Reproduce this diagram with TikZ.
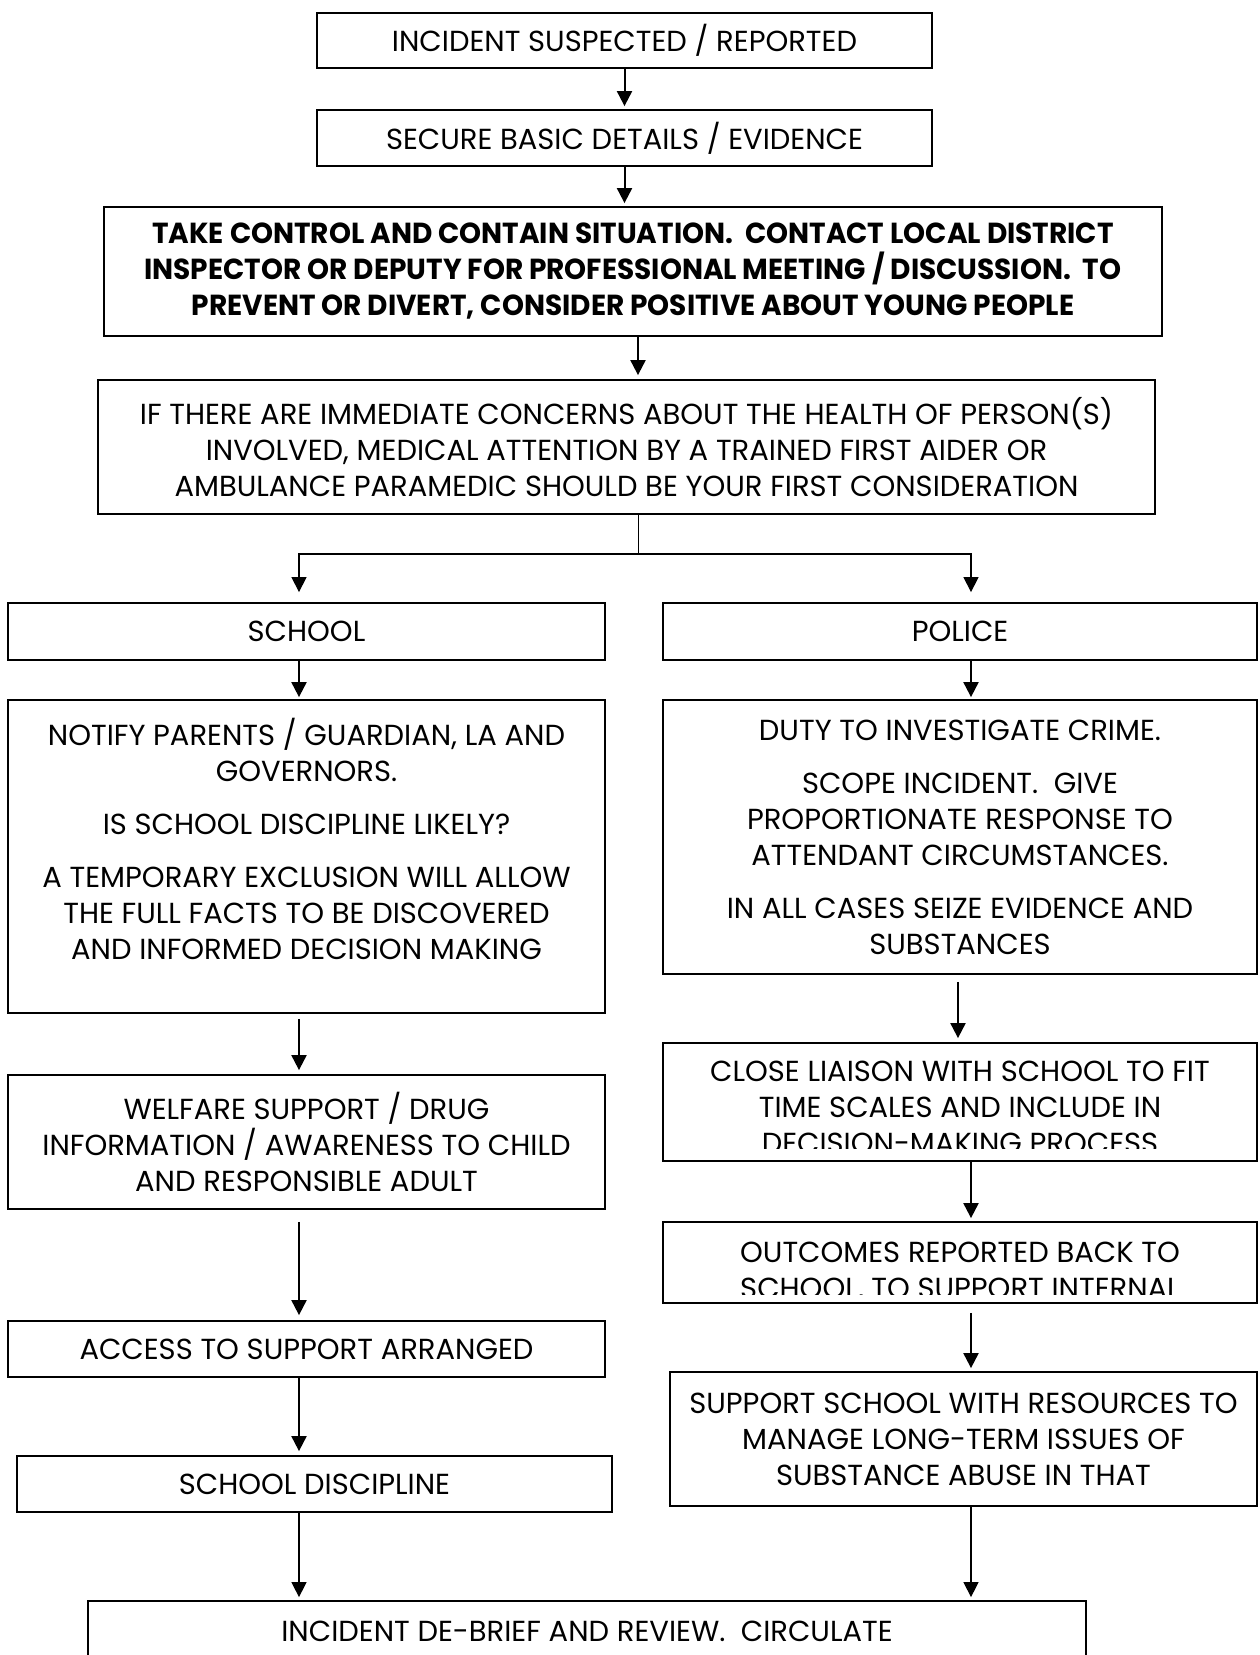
\documentclass[tikz,border=0pt]{standalone}
\usepackage{fontspec}
\setmainfont{Poppins}[BoldFeatures={FakeStretch=0.965}]
\usetikzlibrary{arrows.meta,positioning}

\tikzset{
  box/.style={draw, line width=0.9pt, align=center, inner sep=0pt,
    font=\fontsize{14.5}{18}\selectfont},
  txt/.style={align=center, inner sep=0pt, font=\fontsize{14.5}{18}\selectfont},
  arr/.style={line width=1pt, -{Triangle[length=7.5pt,width=7.5pt]}},
  link/.style={line width=0.5pt},
}

\begin{document}
\begin{tikzpicture}[x=0.5pt,y=-0.5pt]
\useasboundingbox (0,0) rectangle (1259,1655);

% top of the chart
\node[box, minimum width=307.5pt, minimum height=27.5pt] (incident) at (624.5,40.5) {INCIDENT SUSPECTED / REPORTED};
\node[box, minimum width=307.5pt, minimum height=28pt] (secure) at (624.5,138) {SECURE BASIC DETAILS / EVIDENCE};
\node[box, minimum width=529pt, minimum height=64.5pt, font=\fontsize{14.5}{18}\selectfont\bfseries] (control) at (633,271.5)
  {TAKE CONTROL AND CONTAIN SITUATION.~ CONTACT LOCAL DISTRICT\\
   INSPECTOR OR DEPUTY FOR PROFESSIONAL MEETING / DISCUSSION.~ TO\\
   PREVENT OR DIVERT, CONSIDER POSITIVE ABOUT YOUNG PEOPLE};
\node[box, minimum width=528.5pt, minimum height=67pt] (health) at (626.5,447)
  {IF THERE ARE IMMEDIATE CONCERNS ABOUT THE HEALTH OF PERSON(S)\\
   INVOLVED, MEDICAL ATTENTION BY A TRAINED FIRST AIDER OR\\
   AMBULANCE PARAMEDIC SHOULD BE YOUR FIRST CONSIDERATION};

% school side
\node[box, minimum width=298.5pt, minimum height=28.5pt] (school) at (306.5,631.5) {SCHOOL};
\node[box, minimum width=298.5pt, minimum height=156.5pt] (notify) at (306.5,856.5)
  {NOTIFY PARENTS / GUARDIAN, LA AND\\
   GOVERNORS.\\[8.5pt]
   IS SCHOOL DISCIPLINE LIKELY?\\[8.5pt]
   A TEMPORARY EXCLUSION WILL ALLOW\\
   THE FULL FACTS TO BE DISCOVERED\\
   AND INFORMED DECISION MAKING\\ ~};
\node[box, minimum width=298.5pt, minimum height=67pt] (welfare) at (306.5,1142)
  {WELFARE SUPPORT / DRUG\\
   INFORMATION / AWARENESS TO CHILD\\
   AND RESPONSIBLE ADULT};
\node[box, minimum width=298.5pt, minimum height=28pt] (access) at (306.5,1349) {ACCESS TO SUPPORT ARRANGED};
\node[box, minimum width=297.5pt, minimum height=28pt] (discipline) at (314.5,1484) {SCHOOL DISCIPLINE};

% police side
\node[box, minimum width=297pt, minimum height=28.5pt] (police) at (960,631.5) {POLICE};
\node[box, minimum width=297pt, minimum height=137pt] (duty) at (960,837)
  {DUTY TO INVESTIGATE CRIME.\\[8.5pt]
   SCOPE INCIDENT.~ GIVE\\
   PROPORTIONATE RESPONSE TO\\
   ATTENDANT CIRCUMSTANCES.\\[8.5pt]
   IN ALL CASES SEIZE EVIDENCE AND\\
   SUBSTANCES};
\node[box, minimum width=297pt, minimum height=59pt] (liaison) at (960,1102) {};
\begin{scope}
  \clip (liaison.north west) rectangle ([yshift=6.5pt]liaison.south east);
  \node[txt] (liaisontxt) at (960,1107)
    {CLOSE LIAISON WITH SCHOOL TO FIT\\
     TIME SCALES AND INCLUDE IN\\
     DECISION-MAKING PROCESS};
\end{scope}
\node[box, minimum width=297pt, minimum height=40.5pt] (outcomes) at (960,1262.5) {};
\begin{scope}
  \clip (outcomes.north west) rectangle ([yshift=4.5pt]outcomes.south east);
  \node[txt] (outcomestxt) at (960,1272)
    {OUTCOMES REPORTED BACK TO\\
     SCHOOL, TO SUPPORT INTERNAL};
\end{scope}
\node[box, minimum width=293.5pt, minimum height=67pt] (resources) at (963.5,1439)
  {SUPPORT SCHOOL WITH RESOURCES TO\\
   MANAGE LONG-TERM ISSUES OF\\
   SUBSTANCE ABUSE IN THAT};

% bottom
\node[box, minimum width=499pt, minimum height=30.5pt] (debrief) at (587,1631.5) {INCIDENT DE-BRIEF AND REVIEW.~ CIRCULATE};

% connectors
\coordinate (split) at (638,554);
\coordinate (colL) at (299,0);
\coordinate (colR) at (971,0);
\coordinate (colR2) at (958,0);

\draw[arr] (incident.south) -- ([yshift=1.5pt]secure.north);
\draw[arr] (secure.south) -- ([yshift=1.5pt]secure.south |- control.north);
\draw[arr] (control.south -| split) -- ([yshift=2pt]health.north -| split);
\draw[link] (health.south -| split) -- (split);
\draw[arr, line width=0.6pt] (split) -| ([yshift=5pt]colL |- school.north);
\draw[arr, line width=0.6pt] (split) -| ([yshift=5pt]colR |- police.north);

\draw[arr] (colL |- school.south) -- ([yshift=1pt]colL |- notify.north);
\draw[arr] ([yshift=-2.5pt]colL |- notify.south) -- ([yshift=2pt]colL |- welfare.north);
\draw[arr] ([yshift=-6pt]colL |- welfare.south) -- ([yshift=2.5pt]colL |- access.north);
\draw[arr] (colL |- access.south) -- ([yshift=2pt]colL |- discipline.north);
\draw[arr, line width=0.7pt] (colL |- discipline.south) -- ([yshift=1.5pt]colL |- debrief.north);

\draw[arr] (colR |- police.south) -- ([yshift=1pt]colR |- duty.north);
\draw[arr] ([yshift=-3.5pt]colR2 |- duty.south) -- ([yshift=2pt]colR2 |- liaison.north);
\draw[arr] (colR |- liaison.south) -- ([yshift=1.5pt]colR |- outcomes.north);
\draw[arr] ([yshift=-4.5pt]colR |- outcomes.south) -- ([yshift=1.5pt]colR |- resources.north);
\draw[arr, line width=0.7pt] (colR |- resources.south) -- ([yshift=1.5pt]colR |- debrief.north);

\end{tikzpicture}
\end{document}
